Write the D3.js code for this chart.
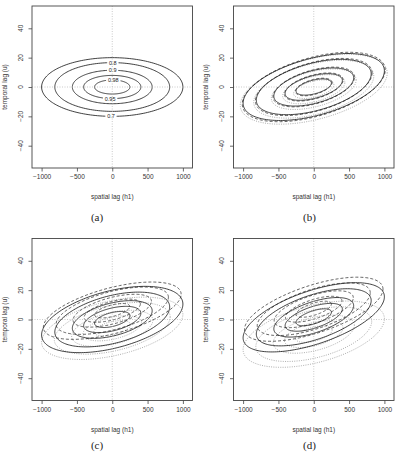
<!DOCTYPE html>
<html>
<head>
<meta charset="utf-8">
<title>space-time correlation contours</title>
<script src="https://cdnjs.cloudflare.com/ajax/libs/d3/7.8.5/d3.min.js"></script>
<style>
  body { margin: 0; background: #fff; }
  svg { display: block; font-family: "Liberation Sans", Arial, sans-serif; }
</style>
</head>
<body>
<svg id="chart" width="398" height="452"></svg>
<script>
// contour levels (panel a labels)
var levels = [0.7, 0.8, 0.9, 0.95, 0.98];

// semi-axes, one entry per level (outer -> inner)
var axSolid = [1000, 813, 565, 405, 250];
var bySolid = [20, 16.6, 11.4, 7.9, 4.8];

var axDashB = [1012, 826, 577, 416, 260];
var byDashB = [20.6, 17.0, 11.8, 8.3, 5.2];
var axDotB = [1040, 850, 600, 440, 285];
var byDotB = [21.2, 17.6, 12.3, 8.8, 5.6];

var axDashC = [975, 795, 555, 398, 248];
var byDashC = [16, 13.3, 9.2, 6.4, 4.0];
var axDotC = [1000, 820, 575, 415, 260];
var byDotC = [19, 15.8, 11, 7.6, 4.6];

var axDashD = [980, 800, 560, 400, 250];
var byDashD = [17, 14, 9.8, 6.8, 4.2];
var byDSolid = [19, 15.8, 10.9, 7.6, 4.6];
var axDotD = [1000, 820, 575, 415, 260];
var byDotD = [20, 16.5, 11.5, 8, 4.9];

// panel a contour labels: which ellipse, horizontal spot, top(1)/bottom(-1)
var labelIdx = [1, 2, 4, 3, 0];
var labelH = [8, 6, 15, -30, -18];
var labelSide = [1, 1, 1, -1, -1];

var xTicks = [-1000, -500, 0, 500, 1000];
var yTicks = [-40, -20, 0, 20, 40];

// each series: semi-axes, centre and shear of the tilted contours
var panels = [
  { name: "(a)", x0: 32, y0: 6, series: [
      { ax: axSolid, by: bySolid, cy: 0, k: 0, style: "solid" } ], labels: true },
  { name: "(b)", x0: 233.5, y0: 6, series: [
      { ax: axDotB, by: byDotB, cy: -1.5, k: 0.0105, style: "dot" },
      { ax: axDashB, by: byDashB, cy: 0, k: 0.0115, style: "dash" },
      { ax: axSolid, by: bySolid, cy: 0, k: 0.011, style: "solid" } ] },
  { name: "(c)", x0: 32, y0: 238.5, series: [
      { ax: axDotC, by: byDotC, cy: -6, k: 0.0095, style: "dot" },
      { ax: axDashC, by: byDashC, cy: 6, k: 0.0115, style: "dash" },
      { ax: axSolid, by: bySolid, cy: 0, k: 0.0105, style: "solid" } ] },
  { name: "(d)", x0: 233.5, y0: 238.5, series: [
      { ax: axDotD, by: byDotD, cy: -10, k: 0.0105, style: "dot" },
      { ax: axDashD, by: byDashD, cy: 7, k: 0.014, style: "dash" },
      { ax: axSolid, by: byDSolid, cy: 1.5, k: 0.014, style: "solid" } ] }
];

var boxW = 160.5, boxH = 162;
var svg = d3.select("#chart");
var styles = {
  solid: { stroke: "#111", dash: null, w: 0.8 },
  dash: { stroke: "#222", dash: "3,2", w: 0.7 },
  dot: { stroke: "#8a8a8a", dash: "1,1.3", w: 0.7 }
};

var thetas = d3.range(0, 180).map(function (i) { return i / 180 * 2 * Math.PI; });

panels.forEach(function (p, pi) {
  var x = d3.scaleLinear().domain([-1136, 1136]).range([p.x0, p.x0 + boxW]);
  var y = d3.scaleLinear().domain([-55.2, 55.2]).range([p.y0 + boxH, p.y0]);
  var g = svg.append("g");

  var line = d3.line()
    .x(function (d) { return x(d[0]); })
    .y(function (d) { return y(d[1]); })
    .curve(d3.curveLinearClosed);

  // contours
  p.series.forEach(function (s) {
    var st = styles[s.style];
    s.ax.forEach(function (a, i) {
      var b = s.by[i];
      var pts = thetas.map(function (t) {
        var h = a * Math.cos(t);
        return [h, s.cy + b * Math.sin(t) + s.k * h];
      });
      g.append("path")
        .attr("d", line(pts))
        .attr("fill", "none")
        .attr("stroke", st.stroke)
        .attr("stroke-width", st.w)
        .attr("stroke-dasharray", st.dash);
    });
  });

  // contour labels in panel a (line broken under the text)
  var labs = [];
  if (p.labels) {
    var s0 = p.series[0];
    labelIdx.forEach(function (li, j) {
      var a = s0.ax[li], b = s0.by[li], h = labelH[j];
      var v = labelSide[j] * b * Math.sqrt(1 - (h / a) * (h / a));
      var txt = String(levels[li]);
      var w = txt.length * 3.1 + 2;
      g.append("rect")
        .attr("x", x(h) - w / 2).attr("y", y(v) - 3)
        .attr("width", w).attr("height", 6)
        .attr("fill", "#fff");
      labs.push({ x: x(h), y: y(v), t: txt });
    });
  }

  // dotted reference lines through the origin
  g.append("line")
    .attr("x1", x(0)).attr("x2", x(0))
    .attr("y1", p.y0).attr("y2", p.y0 + boxH)
    .attr("stroke", "#b5b5b5").attr("stroke-width", 0.7)
    .attr("stroke-dasharray", "1,1.5");
  g.append("line")
    .attr("x1", p.x0).attr("x2", p.x0 + boxW)
    .attr("y1", y(0)).attr("y2", y(0))
    .attr("stroke", "#b5b5b5").attr("stroke-width", 0.7)
    .attr("stroke-dasharray", "1,1.5");

  labs.forEach(function (l) {
    g.append("text")
      .attr("x", l.x).attr("y", l.y + 2)
      .attr("text-anchor", "middle")
      .attr("font-size", 5.5)
      .attr("fill", "#222")
      .text(l.t);
  });

  // box
  g.append("rect")
    .attr("x", p.x0).attr("y", p.y0)
    .attr("width", boxW).attr("height", boxH)
    .attr("fill", "none").attr("stroke", "#444").attr("stroke-width", 0.9);

  // x axis
  var xa = g.append("g")
    .attr("transform", "translate(0," + (p.y0 + boxH) + ")")
    .call(d3.axisBottom(x).tickValues(xTicks).tickFormat(d3.format("d"))
      .tickSize(3.5).tickPadding(3));
  xa.select(".domain").remove();
  xa.selectAll("line").attr("stroke", "#444").attr("stroke-width", 0.8);
  xa.selectAll("text").attr("fill", "#333")
    .style("font-size", "6.5px")
    .style("font-family", "'Liberation Sans', Arial, sans-serif");

  // y axis, labels parallel to the axis
  var ya = g.append("g")
    .attr("transform", "translate(" + p.x0 + ",0)")
    .call(d3.axisLeft(y).tickValues(yTicks).tickSize(3.5));
  ya.select(".domain").remove();
  ya.selectAll("line").attr("stroke", "#444").attr("stroke-width", 0.8);
  ya.selectAll("text").remove();
  yTicks.forEach(function (t) {
    g.append("text")
      .attr("transform", "translate(" + (p.x0 - 9.4) + "," + y(t) + ") rotate(-90)")
      .attr("text-anchor", "middle")
      .attr("font-size", 6.5).attr("fill", "#333")
      .text(d3.format("d")(t));
  });

  // axis titles
  g.append("text")
    .attr("x", x(0)).attr("y", p.y0 + boxH + 31)
    .attr("text-anchor", "middle")
    .attr("font-size", 6.5).attr("fill", "#333")
    .text("spatial lag (h1)");
  g.append("text")
    .attr("transform", "translate(" + (p.x0 - 25.5) + "," + (p.y0 + boxH / 2) + ") rotate(-90)")
    .attr("text-anchor", "middle")
    .attr("font-size", 6.5).attr("fill", "#333")
    .text("temporal lag (u)");

  // caption
  g.append("text")
    .attr("x", p.x0 + (pi % 2 === 0 ? 65 : 76)).attr("y", pi < 2 ? 221 : 448.5)
    .attr("text-anchor", "middle")
    .style("font-family", "'Liberation Serif', 'DejaVu Serif', serif")
    .attr("font-size", 11).attr("fill", "#222")
    .text(p.name);
});
</script>
</body>
</html>
